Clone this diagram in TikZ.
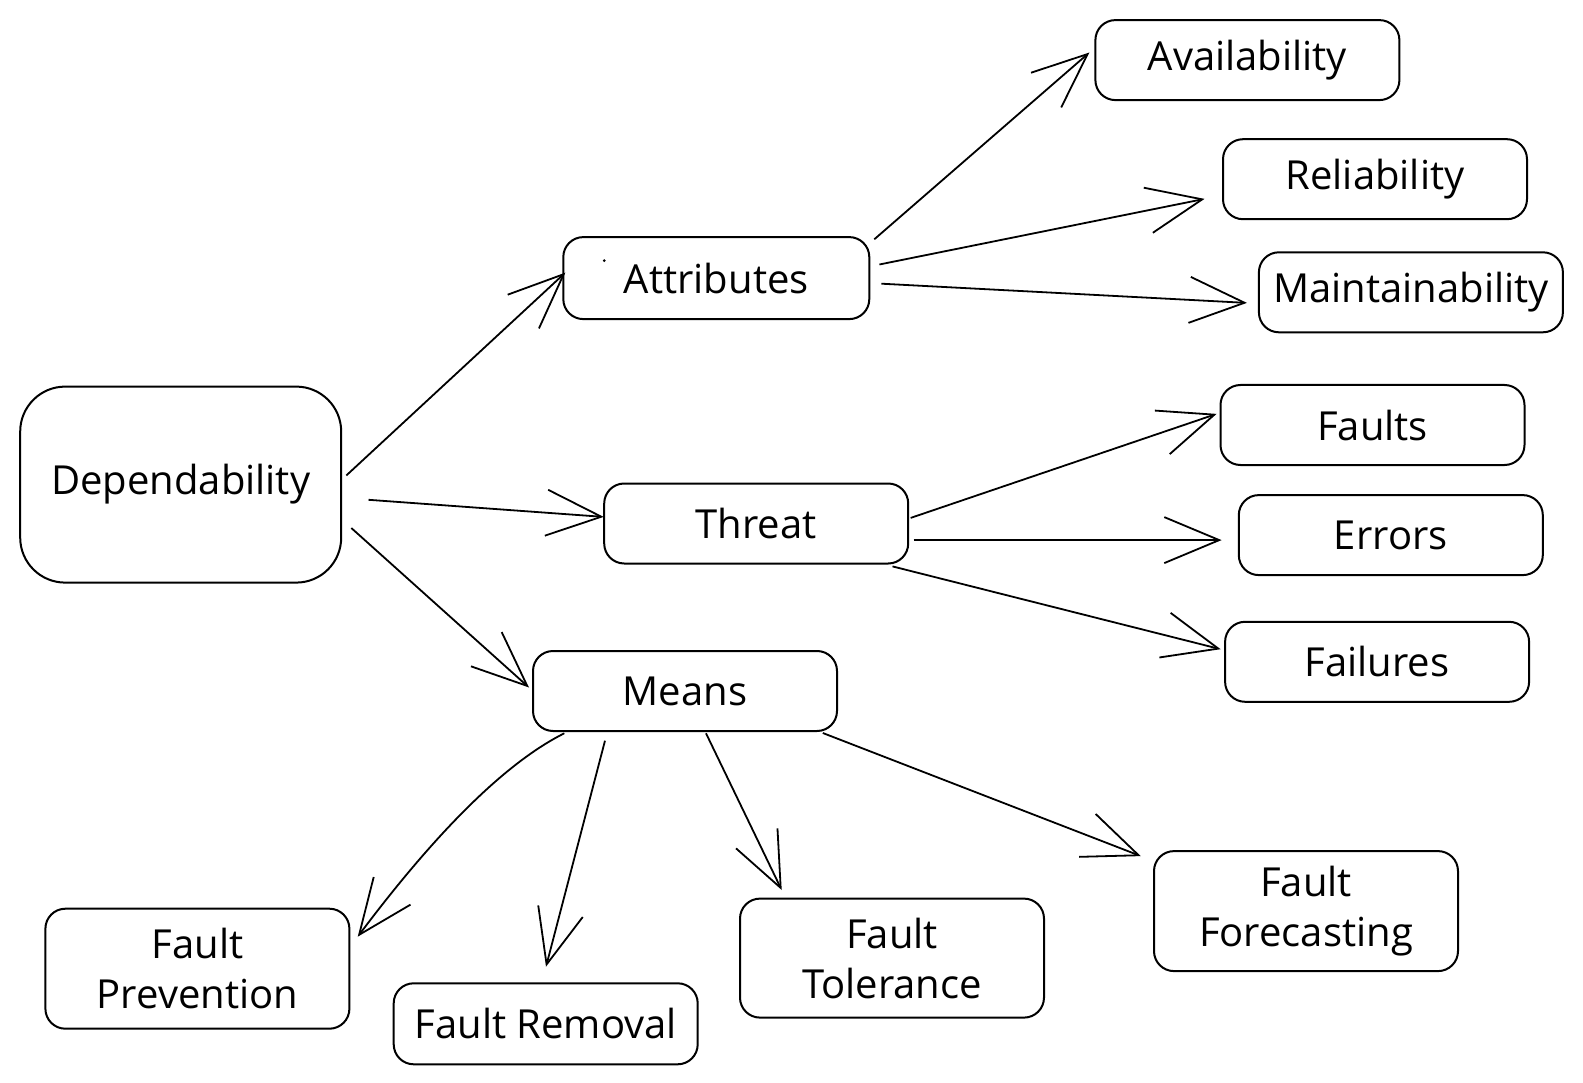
\documentclass[tikz,border=0pt]{standalone}
\usepackage{fontspec}
\setmainfont{Open Sans}
\usetikzlibrary{arrows.meta,calc}
\begin{document}
\begin{tikzpicture}[x=1pt,y=-1pt,
  box/.style={draw, line width=2pt, rounded corners=20pt, minimum width=304pt,
    minimum height=80pt, inner sep=0pt, outer sep=0pt, align=center,
    font=\fontsize{40}{50}\selectfont},
  arr/.style={line width=1.8pt, -{Straight Barb[length=55pt,width=46pt]}}]
\useasboundingbox (0,0) rectangle (1583,1083);
% nodes
\node[box, minimum width=321pt, minimum height=196pt, rounded corners=45pt] (dep) at (180.7,484.6) {Dependability};
\node[box, minimum width=306pt, minimum height=82pt] (attr) at (716.3,278.1) {Attributes};
\node[box] (threat) at (756.2,523.5) {Threat};
\node[box] (means) at (685,691) {Means};
\node[box] (avail) at (1247.4,60.1) {Availability};
\node[box] (reli) at (1375,179.2) {Reliability};
\node[box] (maint) at (1410.9,292.3) {Maintainability};
\node[box] (faults) at (1372.5,425) {Faults};
\node[box] (errors) at (1390.8,535.1) {Errors};
\node[box] (failures) at (1377.1,661.8) {Failures};
\node[box, minimum height=120pt] (fprev) at (197.4,968.7) {Fault\\Prevention};
\node[box, minimum height=81pt] (frem) at (545.7,1023.8) {Fault Removal};
\node[box, minimum height=119pt] (ftol) at (892,958.1) {Fault\\Tolerance};
\node[box, minimum height=120pt] (ffore) at (1306,911.1) {Fault\\Forecasting};
% small stray dot inside the Attributes box
\fill ([shift={(-112,-17.5)}]attr.center) circle (1.5pt);
% connectors
\draw[arr] ([shift={(165.6,-9.1)}]dep.center) -- ([shift={(-150.9,-5.5)}]attr.center);
\draw[arr] ([shift={(187.8,15.2)}]dep.center) -- ([shift={(-152.5,-6.6)}]threat.center);
\draw[arr] ([shift={(170.6,43.4)}]dep.center) -- ([shift={(-156,-3.5)}]means.center);
\draw[arr] ([shift={(158,-38.8)}]attr.center) -- ([shift={(-158,-7.6)}]avail.center);
\draw[arr] ([shift={(163.1,-13.6)}]attr.center) -- ([shift={(-170.5,19.7)}]reli.center);
\draw[arr] ([shift={(165.1,5.6)}]attr.center) -- ([shift={(-164,10.6)}]maint.center);
\draw[arr] ([shift={(154.5,-5.6)}]threat.center) -- ([shift={(-155.9,-11.1)}]faults.center);
\draw[arr] ([shift={(157.5,16.6)}]threat.center) -- ([shift={(-169.2,5)}]errors.center);
\draw[arr] ([shift={(136.3,42.9)}]threat.center) -- ([shift={(-156.5,-12.6)}]failures.center);
\draw[arr] ([shift={(-120.7,42.3)}]means.center) .. controls ([shift={(-178.3,71.1)}]means.center) and ([shift={(-247.2,138.9)}]means.center) .. ([shift={(160.3,-32)}]fprev.center);
\draw[arr] ([shift={(-80,49.7)}]means.center) -- ([shift={(0.3,-57.1)}]frem.center);
\draw[arr] ([shift={(21,42.3)}]means.center) -- ([shift={(-110.3,-68.1)}]ftol.center);
\draw[arr] ([shift={(137.8,42)}]means.center) -- ([shift={(-165.2,-55)}]ffore.center);
\end{tikzpicture}
\end{document}
